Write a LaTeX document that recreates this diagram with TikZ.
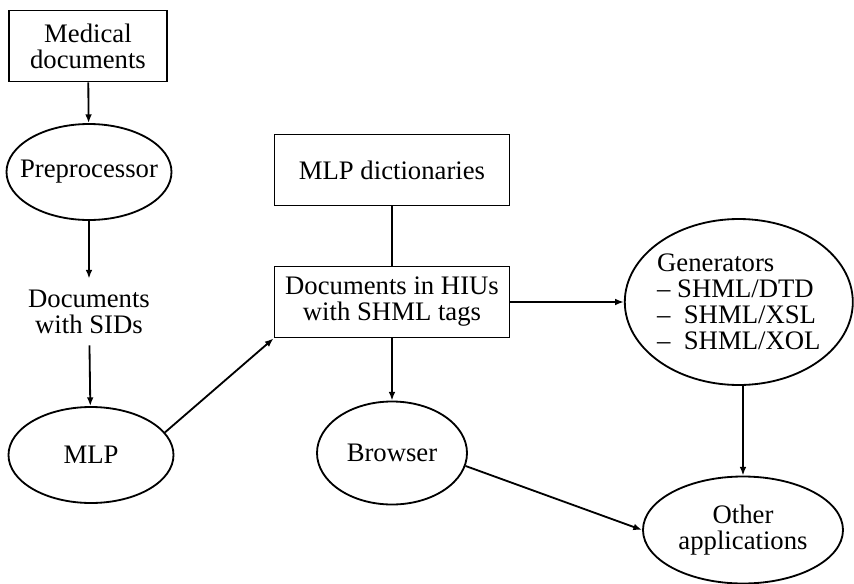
\documentclass[tikz,border=0pt]{standalone}
\usepackage{fontspec}
\setmainfont{Liberation Serif}
\usetikzlibrary{arrows.meta, shapes.geometric}

\begin{document}
\begin{tikzpicture}[
  box/.style={draw, line width=1.3pt, align=center, inner sep=0pt,
    font=\fontsize{19pt}{18.5pt}\selectfont},
  rect/.style={box, rectangle, minimum width=5.875cm, minimum height=1.775cm},
  oval/.style={box, ellipse, inner xsep=-8pt},
  textonly/.style={align=center, inner sep=8pt, font=\fontsize{19pt}{18.5pt}\selectfont},
  arrow/.style={-{Latex[length=2.2mm, width=1.7mm]}, line width=1.3pt},
  joint/.style={line width=1.3pt}
]
\useasboundingbox (0,0) rectangle (21.35,-14.6);

% left column
\node[rect, minimum width=3.95cm] (meddocs) at (2.2, -1.15) {Medical\\documents};
\node[oval, minimum width=4.125cm, minimum height=2.4cm] (preproc) at (2.225, -4.3) {Preprocessor};
\node[textonly] (sids) at (2.225, -7.8) {Documents\\with SIDs};
\node[oval, minimum width=4.125cm, minimum height=2.4cm] (mlp) at (2.275, -11.375) {MLP};

% middle column
\node[rect] (dict) at (9.8, -4.25) {MLP dictionaries};
\node[rect] (hius) at (9.8, -7.55) {Documents in HIUs\\with SHML tags};
\node[oval, minimum width=3.75cm, minimum height=2.575cm] (browser) at (9.8, -11.325) {Browser};

% right column
\node[oval, align=left, minimum width=5.7cm, minimum height=4.15cm] (gens) at (18.47, -7.55)
  {Generators\\-- SHML/DTD\\--\ \ SHML/XSL\\--\ \ SHML/XOL};
\node[oval, minimum width=5cm, minimum height=2.675cm] (other) at (18.575, -13.25) {Other\\applications};

\draw[arrow] (meddocs) -- (preproc);
\draw[arrow] (preproc) -- (sids);
\draw[arrow] (sids) -- (mlp);
\draw[arrow] (mlp.17) -- (hius.south west);
\draw[joint] (dict) -- (hius);
\draw[arrow] (hius) -- (browser);
\draw[arrow] (hius) -- (gens);
\draw[arrow] (gens.south -| other.north) -- (other.north);
\draw[arrow] (browser.-10) -- (other.west);
\end{tikzpicture}
\end{document}
